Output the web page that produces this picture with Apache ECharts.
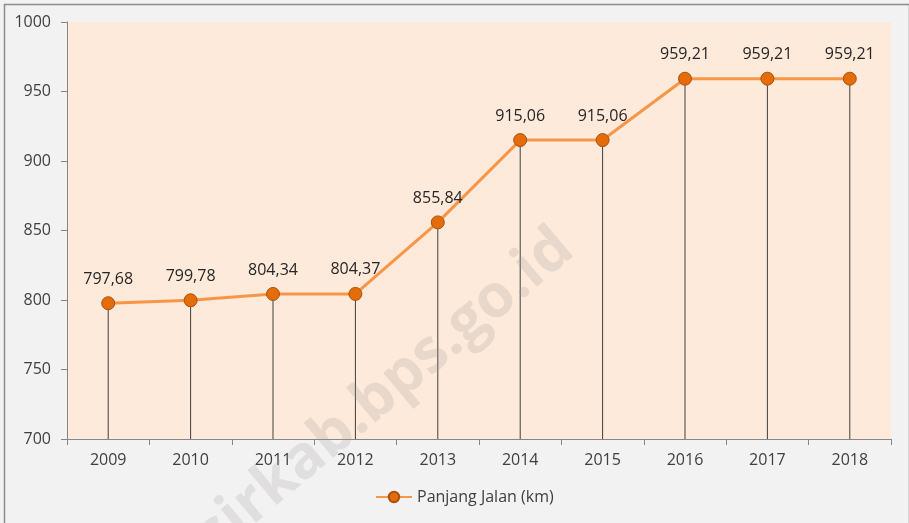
<!DOCTYPE html>
<html>
<head>
<meta charset="utf-8">
<script src="https://cdn.jsdelivr.net/npm/echarts@6/dist/echarts.min.js"></script>
<style>
html,body{margin:0;padding:0;background:#F2F2F2;}
#chart{width:909px;height:523px;}
</style>
</head>
<body>
<div id="chart"></div>
<script>
var years = ['2009','2010','2011','2012','2013','2014','2015','2016','2017','2018'];
var panjangJalan = [797.68, 799.78, 804.34, 804.37, 855.84, 915.06, 915.06, 959.21, 959.21, 959.21];
var yTicks = [700, 750, 800, 850, 900, 950, 1000];
var seriesName = 'Panjang Jalan (km)';
var watermark = 'sirkab.bps.go.id';

var FONT = '"Open Sans", "Noto Sans", sans-serif';
var chart = echarts.init(document.getElementById('chart'), null, {renderer: 'canvas'});
chart.setOption({
  backgroundColor: '#F2F2F2',
  animation: false,
  grid: {left: 67, right: 18, top: 22, bottom: 84, show: true, backgroundColor: '#FDEADA', borderWidth: 0},
  xAxis: {
    type: 'category',
    data: years,
    boundaryGap: true,
    axisLine: {show: true, lineStyle: {color: '#868686', width: 1}},
    axisTick: {show: true, length: 6, alignWithLabel: false, lineStyle: {color: '#868686'}},
    axisLabel: {fontFamily: FONT, fontSize: 16, color: '#404040', margin: 13}
  },
  yAxis: {
    type: 'value',
    min: yTicks[0],
    max: yTicks[yTicks.length - 1],
    interval: 50,
    axisLine: {show: true, lineStyle: {color: '#868686', width: 1}},
    axisTick: {show: true, length: 6, lineStyle: {color: '#868686'}},
    splitLine: {show: false},
    axisLabel: {fontFamily: FONT, fontSize: 16, color: '#404040', margin: 16,
      formatter: function (v) { return String(v); }}
  },
  legend: {
    data: [seriesName],
    bottom: 13,
    left: 370,
    itemWidth: 36,
    itemHeight: 13,
    itemGap: 2,
    textStyle: {fontFamily: FONT, fontSize: 16, color: '#404040'}
  },
  series: [
    {
      name: 'drop',
      type: 'bar',
      data: panjangJalan,
      barWidth: 1,
      barGap: '-100%',
      itemStyle: {color: '#404040'},
      silent: true,
      z: 1
    },
    {
      name: seriesName,
      type: 'line',
      data: panjangJalan,
      symbol: 'circle',
      symbolSize: 13,
      lineStyle: {color: '#F79646', width: 3},
      itemStyle: {color: '#E46C0A', borderColor: '#A8520C', borderWidth: 1},
      label: {
        show: true,
        position: 'top',
        distance: 9,
        fontFamily: FONT,
        fontSize: 16,
        color: '#262626',
        formatter: function (p) { return p.value.toFixed(2).replace('.', ','); }
      },
      z: 3
    }
  ],
  graphic: [
    {
      type: 'rect',
      left: 2, top: 2,
      shape: {x: 0, y: 0, width: 905, height: 530},
      style: {fill: 'none', stroke: '#8C8C8C', lineWidth: 1.5},
      silent: true
    },
    {
      type: 'text',
      x: 385, y: 392,
      rotation: 40 * Math.PI / 180,
      style: {
        text: watermark,
        font: 'bold 60px "Open Sans", sans-serif',
        fill: 'rgba(160,150,150,0.22)',
        textAlign: 'center',
        textVerticalAlign: 'middle'
      },
      z: 100,
      silent: true
    }
  ]
});
</script>
</body>
</html>
